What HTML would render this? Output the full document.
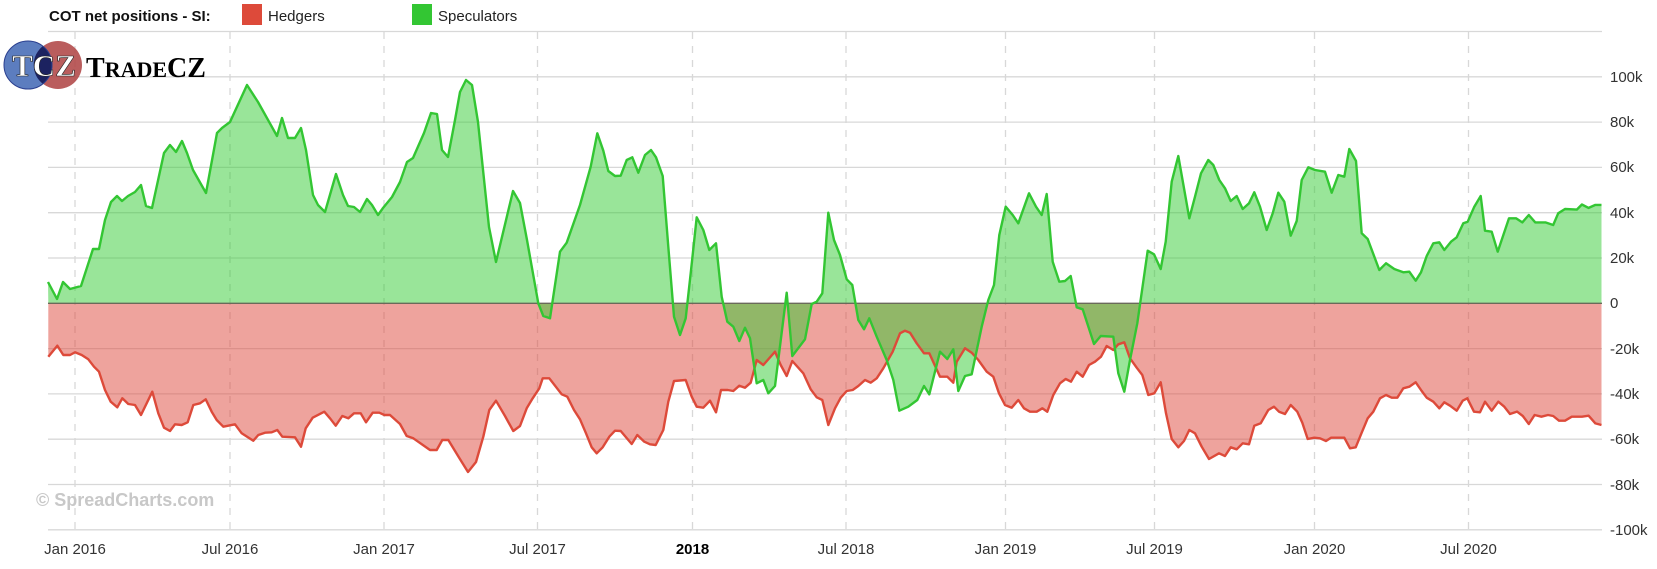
<!DOCTYPE html>
<html><head><meta charset="utf-8"><style>
html,body{margin:0;padding:0;background:#fff;}
svg{display:block;font-family:"Liberation Sans",sans-serif;}
</style></head><body>
<svg width="1657" height="569" viewBox="0 0 1657 569" xmlns="http://www.w3.org/2000/svg">
<rect width="1657" height="569" fill="#fff"/>
<!-- horizontal gridlines -->
<g stroke="#d8d8d8" stroke-width="1.3">
<line x1="48" x2="1602" y1="31.5" y2="31.5"/>
<line x1="48" x2="1602" y1="76.8" y2="76.8"/>
<line x1="48" x2="1602" y1="122.1" y2="122.1"/>
<line x1="48" x2="1602" y1="167.4" y2="167.4"/>
<line x1="48" x2="1602" y1="212.7" y2="212.7"/>
<line x1="48" x2="1602" y1="258" y2="258"/>
<line x1="48" x2="1602" y1="348.6" y2="348.6"/>
<line x1="48" x2="1602" y1="393.9" y2="393.9"/>
<line x1="48" x2="1602" y1="439.2" y2="439.2"/>
<line x1="48" x2="1602" y1="484.5" y2="484.5"/>
<line x1="48" x2="1602" y1="529.8" y2="529.8"/>
</g>
<g stroke="#d8d8d8" stroke-width="1.3" stroke-dasharray="7,7">
<line x1="75" x2="75" y1="32" y2="530"/>
<line x1="230" x2="230" y1="32" y2="530"/>
<line x1="384" x2="384" y1="32" y2="530"/>
<line x1="537.5" x2="537.5" y1="32" y2="530"/>
<line x1="692.5" x2="692.5" y1="32" y2="530"/>
<line x1="846" x2="846" y1="32" y2="530"/>
<line x1="1005.5" x2="1005.5" y1="32" y2="530"/>
<line x1="1154.5" x2="1154.5" y1="32" y2="530"/>
<line x1="1314.5" x2="1314.5" y1="32" y2="530"/>
<line x1="1468.5" x2="1468.5" y1="32" y2="530"/>
</g>

<!-- Hedgers (red) -->
<g id="red">
<polygon fill="rgba(221,72,59,0.5)" points="48.3,303.3 48.3,356.7 57.3,345.7 63.3,355 70,355 75,352.3 81.7,355 88.3,359.3 94,366.7 99,371.7 105,390 110.7,401.7 117.3,407.3 122.3,398.3 128.3,404 135,405 141,415 152.3,391.7 158.3,413.3 164,427.7 170,431 175,424.3 181.7,425 187.7,422.3 193.3,405 200,403.3 205.7,399.3 211.7,411.7 216.7,420 223.3,426.7 235,424.3 241.7,433.3 253.3,440.7 258.3,435 265,432.7 271.7,432.3 277.3,430 282.3,436.7 295,437.3 301,446.7 305.7,428.3 312.7,417.7 324.3,411.7 330,418.3 335.7,425.7 342.3,416 348.3,418.3 354,413.3 360.7,413.3 366,422.3 372.7,412.7 379.3,412.7 384.3,415 390,415 400,424 406.7,436 413.3,438.3 430,450 436.7,450 442.3,440 448.3,440 459.3,458 468,472 476,462 483.3,436.7 489.3,410 496,400.7 505,416 513.3,431 520,426 526.7,408.3 532.7,398.3 539.3,388.3 542.7,378.3 549.3,378.3 561.7,394.3 567.3,396.7 574,410 580,419.3 586,433.3 591.7,447.3 596.7,453.3 602.7,447.3 609.3,436.7 615,430.7 620.7,431 631.7,444 637.3,435 644.3,441.7 650,444.3 655.7,445 663.3,430 668.3,401.7 674,381 685.7,380 691.7,396.7 696.7,406.7 703.3,407.7 710,400.7 716,412.3 721,390 727.7,390 733.3,391 739.3,385.7 745,387.7 750.7,382.7 756.7,360 763.3,365 775,351.7 780.7,365 786.7,376 792.3,361 803.3,373.3 810.7,389.3 816.7,397.3 822.3,400 828.3,425 835,408.3 840.7,397.7 846.7,391 852.7,390 858.3,386 865,380 870.7,382.7 876.7,378.3 883.3,368.3 892.7,351.7 900,333.3 905,330.7 910,332.7 916.7,343.3 924,353.3 929.3,353.3 940,376.7 947.3,376.7 953.3,382.7 956.7,361.7 965,348.3 971.7,352.7 978.3,360 986.7,371.7 993.3,376.7 999,393.3 1005,405 1011.7,407.7 1018.3,400 1024,408.3 1030,411.7 1036.7,411.7 1042.3,408.3 1047.3,411.7 1053.3,395 1060,383.3 1065.7,379 1071,381.7 1076.7,371.7 1082.7,376.7 1089,365 1095,361.7 1101,356.7 1106.7,346 1113.3,350 1118.3,344.3 1124.3,342.3 1130,358.3 1136.7,367.7 1142.3,375 1148.3,395 1154.3,393.3 1160.7,382.3 1166,413.3 1171.7,439 1178.3,447.3 1184,441 1189.3,430 1195,433.3 1201.7,446.7 1209,459 1219,453.3 1225,456 1230.7,447.3 1236.7,449.3 1242.7,443.3 1249,444.3 1254.3,425.7 1260.7,423.3 1268.3,410 1274,406.7 1279,411.7 1285,414 1290.7,405 1297.3,411.7 1302.3,422.7 1307.7,439 1314.3,437.7 1320,438.3 1326,441 1331,437.7 1344.3,437.7 1350,448.3 1355.7,447.3 1361.7,432.7 1367.7,418.3 1373.3,411.7 1380,398.3 1386,395 1391.7,397.7 1397.3,397.7 1403.3,388.3 1409.3,386.7 1415.7,382.3 1421.7,391 1426.7,397.7 1433.3,401.7 1439.3,408.3 1444.3,402.3 1450,405.7 1456.7,410.7 1462.7,400.7 1467.3,398.3 1474,411.7 1480,412.3 1485,401.7 1491.7,410.7 1498.3,401.7 1504.3,406.7 1510,414 1517,411.6 1522.8,416 1528.8,424 1534.6,415 1541.4,416.7 1548,415 1553.2,416 1559,420.7 1565,420.7 1571.8,416.7 1582,416.7 1588.6,415.7 1595.4,423.4 1601.5,425 1601.5,303.3"/>
</g>

<!-- Speculators (green) -->
<polygon fill="rgba(51,204,51,0.5)" points="48.3,303.3 48,282 57,299 63,282 70,289 81,286 93,249 99,249 105,220 111,202 117,196 122,201 128,196 135,192 141,185 146,206 152,208 164,153 170,145 176,152 182,141 187,153 193,170 206,193 217,133 222,128 230,122 247,85 258,102 277,136 282,118 288,138 295,138 301,128 306,150 313,195 318,205 325,212 336,174 343,195 348,206 354,207 360,212 367,199 372,205 378,215 383,208 392,197 400,182 407,162 413,158 424,133 431,113 437,114 442,150 448,157 455,120 460,92 466,80 472,85 478,122 489,227 496,262 513,191 520,203 527,240 538.3,303.3 543.3,316 550,318.3 560,251.7 566.7,242.7 580,205 590.7,166.7 597.3,133.3 603.3,150.7 608.3,171 615,176 620.7,175.7 626.7,160 632.3,157.3 638.3,172.7 645,155 651,150 656,157.3 662.7,176 668.3,246.7 674,316.7 680,335 685.7,318.3 690.7,273.3 696.7,217.3 703.3,230 709.3,250 716,243.3 721.7,296.7 727.3,321.7 733.3,326.7 739.3,341 745,327.7 750,338.3 756.7,383.3 763.3,380 768.3,393.3 775,386 786.7,292.7 792.3,356 805,339.3 811.7,304 816.7,301.7 822.3,293.3 828.3,212.7 834,240 840,255 846.7,279.3 852.3,285 858.3,320 864,329.3 869.3,318.3 876.7,336.7 886.7,360 893.3,380 899.3,410.7 908.3,406.7 917.3,400 924,386 929.3,394.3 940,351.7 947.3,359 953.3,349.3 958.3,391 965,376 971.7,374.3 981.7,326.7 988.3,300 994,285 999.3,235 1005.7,206.7 1012.7,215 1018.3,223.3 1029,193.3 1036,206.7 1041.7,215 1046.7,194 1052.7,261.7 1059.3,281.7 1065,281 1070.7,276 1076.7,307.3 1082.7,309.3 1094,344 1100.7,336 1113.3,336.7 1118.3,373.3 1124.3,391.7 1130,360 1137.3,323.3 1147.7,250.7 1154,254.3 1160.7,269 1165.7,241.7 1171.7,181.7 1178.3,156 1189.3,218.3 1195,196.7 1201,173.3 1208.3,160 1213.3,165 1219.3,180 1225,188.3 1230.7,201 1236.7,196 1242.7,209 1249,203.3 1254.3,192.3 1260,206.7 1266.7,230 1272.7,213.3 1278.3,192.7 1284.3,201.7 1290.7,235.7 1296.7,221 1301.7,180 1308.3,167.3 1315,170 1325,171.7 1331.7,192.7 1338.3,175 1344.3,176.7 1349.3,149 1356,161 1361.7,233.3 1367.7,239 1379.3,270 1386,263.3 1394.3,269 1403.3,272.3 1409.3,271.7 1415.7,280.7 1421,272.3 1426.7,256 1433.3,243.3 1439.3,242.3 1444.3,250 1451,241.7 1456.7,237.3 1463.3,223.3 1467.7,221.7 1474.3,206.7 1480.7,196 1485,230.7 1491.7,231.7 1497.7,251.7 1509,218.3 1516,218.3 1522.3,222.4 1528.8,215 1535.3,222.4 1545.4,222.4 1553.2,225 1558.2,213.3 1565,209 1576.8,209.6 1581.9,204.5 1588.6,207.9 1595.4,204.9 1601.5,204.9 1601.5,303.3"/>

<line x1="48" x2="1602" y1="303.3" y2="303.3" stroke="#6a6a5a" stroke-width="1.3"/>

<polyline fill="none" stroke="#dd4a3a" stroke-width="2.4" stroke-linejoin="round" points="48.3,356.7 57.3,345.7 63.3,355 70,355 75,352.3 81.7,355 88.3,359.3 94,366.7 99,371.7 105,390 110.7,401.7 117.3,407.3 122.3,398.3 128.3,404 135,405 141,415 152.3,391.7 158.3,413.3 164,427.7 170,431 175,424.3 181.7,425 187.7,422.3 193.3,405 200,403.3 205.7,399.3 211.7,411.7 216.7,420 223.3,426.7 235,424.3 241.7,433.3 253.3,440.7 258.3,435 265,432.7 271.7,432.3 277.3,430 282.3,436.7 295,437.3 301,446.7 305.7,428.3 312.7,417.7 324.3,411.7 330,418.3 335.7,425.7 342.3,416 348.3,418.3 354,413.3 360.7,413.3 366,422.3 372.7,412.7 379.3,412.7 384.3,415 390,415 400,424 406.7,436 413.3,438.3 430,450 436.7,450 442.3,440 448.3,440 459.3,458 468,472 476,462 483.3,436.7 489.3,410 496,400.7 505,416 513.3,431 520,426 526.7,408.3 532.7,398.3 539.3,388.3 542.7,378.3 549.3,378.3 561.7,394.3 567.3,396.7 574,410 580,419.3 586,433.3 591.7,447.3 596.7,453.3 602.7,447.3 609.3,436.7 615,430.7 620.7,431 631.7,444 637.3,435 644.3,441.7 650,444.3 655.7,445 663.3,430 668.3,401.7 674,381 685.7,380 691.7,396.7 696.7,406.7 703.3,407.7 710,400.7 716,412.3 721,390 727.7,390 733.3,391 739.3,385.7 745,387.7 750.7,382.7 756.7,360 763.3,365 775,351.7 780.7,365 786.7,376 792.3,361 803.3,373.3 810.7,389.3 816.7,397.3 822.3,400 828.3,425 835,408.3 840.7,397.7 846.7,391 852.7,390 858.3,386 865,380 870.7,382.7 876.7,378.3 883.3,368.3 892.7,351.7 900,333.3 905,330.7 910,332.7 916.7,343.3 924,353.3 929.3,353.3 940,376.7 947.3,376.7 953.3,382.7 956.7,361.7 965,348.3 971.7,352.7 978.3,360 986.7,371.7 993.3,376.7 999,393.3 1005,405 1011.7,407.7 1018.3,400 1024,408.3 1030,411.7 1036.7,411.7 1042.3,408.3 1047.3,411.7 1053.3,395 1060,383.3 1065.7,379 1071,381.7 1076.7,371.7 1082.7,376.7 1089,365 1095,361.7 1101,356.7 1106.7,346 1113.3,350 1118.3,344.3 1124.3,342.3 1130,358.3 1136.7,367.7 1142.3,375 1148.3,395 1154.3,393.3 1160.7,382.3 1166,413.3 1171.7,439 1178.3,447.3 1184,441 1189.3,430 1195,433.3 1201.7,446.7 1209,459 1219,453.3 1225,456 1230.7,447.3 1236.7,449.3 1242.7,443.3 1249,444.3 1254.3,425.7 1260.7,423.3 1268.3,410 1274,406.7 1279,411.7 1285,414 1290.7,405 1297.3,411.7 1302.3,422.7 1307.7,439 1314.3,437.7 1320,438.3 1326,441 1331,437.7 1344.3,437.7 1350,448.3 1355.7,447.3 1361.7,432.7 1367.7,418.3 1373.3,411.7 1380,398.3 1386,395 1391.7,397.7 1397.3,397.7 1403.3,388.3 1409.3,386.7 1415.7,382.3 1421.7,391 1426.7,397.7 1433.3,401.7 1439.3,408.3 1444.3,402.3 1450,405.7 1456.7,410.7 1462.7,400.7 1467.3,398.3 1474,411.7 1480,412.3 1485,401.7 1491.7,410.7 1498.3,401.7 1504.3,406.7 1510,414 1517,411.6 1522.8,416 1528.8,424 1534.6,415 1541.4,416.7 1548,415 1553.2,416 1559,420.7 1565,420.7 1571.8,416.7 1582,416.7 1588.6,415.7 1595.4,423.4 1601.5,425"/>

<polyline fill="none" stroke="#33c633" stroke-width="2.4" stroke-linejoin="round" points="48,282 57,299 63,282 70,289 81,286 93,249 99,249 105,220 111,202 117,196 122,201 128,196 135,192 141,185 146,206 152,208 164,153 170,145 176,152 182,141 187,153 193,170 206,193 217,133 222,128 230,122 247,85 258,102 277,136 282,118 288,138 295,138 301,128 306,150 313,195 318,205 325,212 336,174 343,195 348,206 354,207 360,212 367,199 372,205 378,215 383,208 392,197 400,182 407,162 413,158 424,133 431,113 437,114 442,150 448,157 455,120 460,92 466,80 472,85 478,122 489,227 496,262 513,191 520,203 527,240 538.3,303.3 543.3,316 550,318.3 560,251.7 566.7,242.7 580,205 590.7,166.7 597.3,133.3 603.3,150.7 608.3,171 615,176 620.7,175.7 626.7,160 632.3,157.3 638.3,172.7 645,155 651,150 656,157.3 662.7,176 668.3,246.7 674,316.7 680,335 685.7,318.3 690.7,273.3 696.7,217.3 703.3,230 709.3,250 716,243.3 721.7,296.7 727.3,321.7 733.3,326.7 739.3,341 745,327.7 750,338.3 756.7,383.3 763.3,380 768.3,393.3 775,386 786.7,292.7 792.3,356 805,339.3 811.7,304 816.7,301.7 822.3,293.3 828.3,212.7 834,240 840,255 846.7,279.3 852.3,285 858.3,320 864,329.3 869.3,318.3 876.7,336.7 886.7,360 893.3,380 899.3,410.7 908.3,406.7 917.3,400 924,386 929.3,394.3 940,351.7 947.3,359 953.3,349.3 958.3,391 965,376 971.7,374.3 981.7,326.7 988.3,300 994,285 999.3,235 1005.7,206.7 1012.7,215 1018.3,223.3 1029,193.3 1036,206.7 1041.7,215 1046.7,194 1052.7,261.7 1059.3,281.7 1065,281 1070.7,276 1076.7,307.3 1082.7,309.3 1094,344 1100.7,336 1113.3,336.7 1118.3,373.3 1124.3,391.7 1130,360 1137.3,323.3 1147.7,250.7 1154,254.3 1160.7,269 1165.7,241.7 1171.7,181.7 1178.3,156 1189.3,218.3 1195,196.7 1201,173.3 1208.3,160 1213.3,165 1219.3,180 1225,188.3 1230.7,201 1236.7,196 1242.7,209 1249,203.3 1254.3,192.3 1260,206.7 1266.7,230 1272.7,213.3 1278.3,192.7 1284.3,201.7 1290.7,235.7 1296.7,221 1301.7,180 1308.3,167.3 1315,170 1325,171.7 1331.7,192.7 1338.3,175 1344.3,176.7 1349.3,149 1356,161 1361.7,233.3 1367.7,239 1379.3,270 1386,263.3 1394.3,269 1403.3,272.3 1409.3,271.7 1415.7,280.7 1421,272.3 1426.7,256 1433.3,243.3 1439.3,242.3 1444.3,250 1451,241.7 1456.7,237.3 1463.3,223.3 1467.7,221.7 1474.3,206.7 1480.7,196 1485,230.7 1491.7,231.7 1497.7,251.7 1509,218.3 1516,218.3 1522.3,222.4 1528.8,215 1535.3,222.4 1545.4,222.4 1553.2,225 1558.2,213.3 1565,209 1576.8,209.6 1581.9,204.5 1588.6,207.9 1595.4,204.9 1601.5,204.9"/>

<!-- y axis labels -->
<g font-size="15" fill="#333">
<text x="1610" y="82">100k</text>
<text x="1610" y="127">80k</text>
<text x="1610" y="172">60k</text>
<text x="1610" y="218">40k</text>
<text x="1610" y="263">20k</text>
<text x="1610" y="308">0</text>
<text x="1610" y="354">-20k</text>
<text x="1610" y="399">-40k</text>
<text x="1610" y="444">-60k</text>
<text x="1610" y="490">-80k</text>
<text x="1610" y="535">-100k</text>
</g>
<!-- x axis labels -->
<g font-size="15" fill="#333" text-anchor="middle">
<text x="75" y="554">Jan 2016</text>
<text x="230" y="554">Jul 2016</text>
<text x="384" y="554">Jan 2017</text>
<text x="537.5" y="554">Jul 2017</text>
<text x="692.5" y="554" font-weight="bold" fill="#000">2018</text>
<text x="846" y="554">Jul 2018</text>
<text x="1005.5" y="554">Jan 2019</text>
<text x="1154.5" y="554">Jul 2019</text>
<text x="1314.5" y="554">Jan 2020</text>
<text x="1468.5" y="554">Jul 2020</text>
</g>

<text x="36" y="506" font-size="18" font-weight="bold" fill="#c8c8c8">© SpreadCharts.com</text>

<!-- legend -->
<text x="49" y="21" font-size="15" font-weight="bold" fill="#111">COT net positions - SI:</text>
<rect x="242" y="4" width="20" height="21" fill="#dd4a3a"/>
<text x="268" y="21" font-size="15" fill="#222">Hedgers</text>
<rect x="412" y="4" width="20" height="21" fill="#33c633"/>
<text x="438" y="21" font-size="15" fill="#222">Speculators</text>

<!-- logo -->
<circle cx="28" cy="65" r="24" fill="#4a6fb8" opacity="0.9"/>
<circle cx="58" cy="65" r="24" fill="#b24b4b" opacity="0.9"/>
<path d="M43,46 A24,24 0 0 1 43,84 A24,24 0 0 1 43,46 Z" fill="#1c2260"/>
<circle cx="28" cy="65" r="24" fill="none" stroke="#2a3f8f" stroke-width="1"/>
<text x="44" y="76" font-family="'Liberation Serif',serif" font-size="31" font-weight="bold" fill="#fff" text-anchor="middle" stroke="#222" stroke-width="0.6">TCZ</text>
<text x="86" y="77" font-family="'Liberation Serif',serif" font-size="28" font-weight="bold" fill="#000">T<tspan font-size="22">RADE</tspan>CZ</text>
</svg>
</body></html>
